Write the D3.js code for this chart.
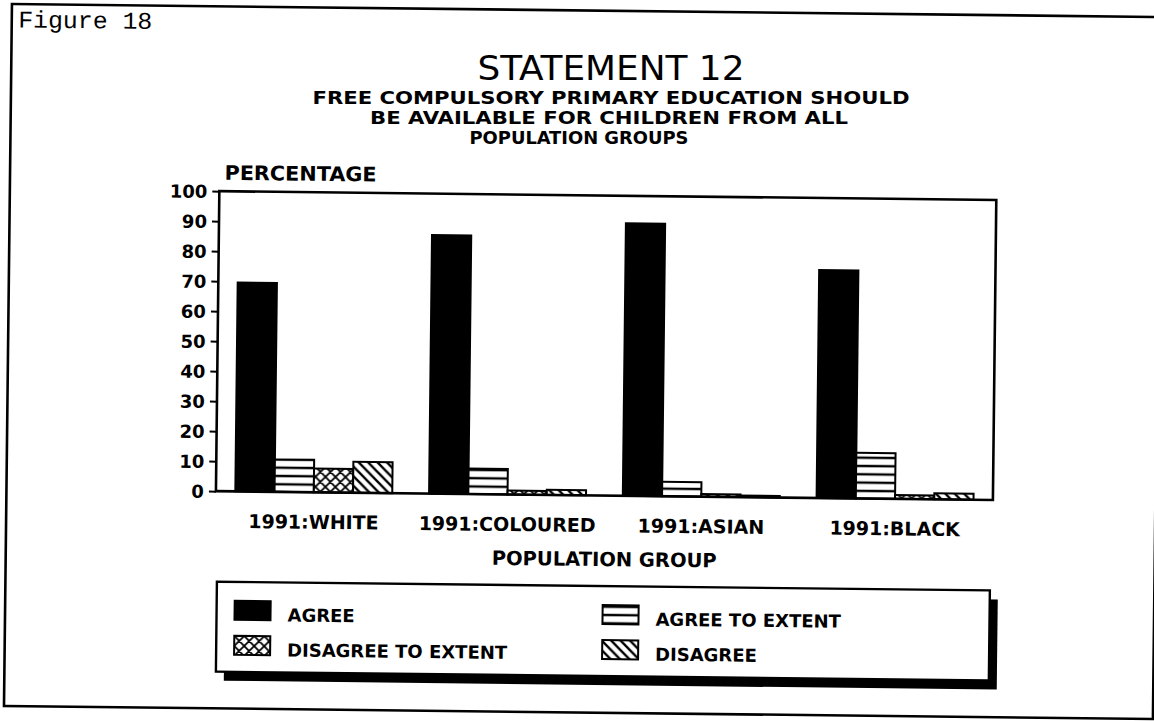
<!DOCTYPE html>
<html><head><meta charset="utf-8">
<script src="https://cdn.jsdelivr.net/npm/d3@7"></script>
<style>body{margin:0;background:#fff} svg{display:block}</style>
</head><body>
<svg id="chart" width="1154" height="721"></svg>
<script>
// ---- data ----
const categories = ["1991:WHITE", "1991:COLOURED", "1991:ASIAN", "1991:BLACK"];
const seriesNames = ["AGREE", "AGREE TO EXTENT", "DISAGREE TO EXTENT", "DISAGREE"];
const agree = [69.6, 86.2, 90.8, 76.0];
const agreeToExtent = [10.8, 8.5, 4.8, 15.2];
const disagreeToExtent = [7.9, 1.3, 0.9, 1.3];
const disagree = [10.3, 1.7, 0.5, 2.0];
const yTicks = [0, 10, 20, 30, 40, 50, 60, 70, 80, 90, 100];
const figureLabel = "Figure 18";
const titleText = "STATEMENT 12";
const subtitleLines = ["FREE COMPULSORY PRIMARY EDUCATION SHOULD", "BE AVAILABLE FOR CHILDREN FROM ALL", "POPULATION GROUPS"];
const yAxisTitle = "PERCENTAGE";
const xAxisTitle = "POPULATION GROUP";

const seriesValues = [agree, agreeToExtent, disagreeToExtent, disagree];
const fills = ["#000", "url(#pHoriz)", "url(#pCross)", "url(#pDiag)"];

const svg = d3.select("#chart");
const defs = svg.append("defs");

// patterns
const ph = defs.append("pattern").attr("id", "pHoriz").attr("patternUnits", "userSpaceOnUse")
  .attr("width", 8).attr("height", 8.3);
ph.append("rect").attr("width", 8).attr("height", 8.3).attr("fill", "#fff");
ph.append("line").attr("x1", 0).attr("x2", 8).attr("y1", 6.5).attr("y2", 6.5).attr("stroke", "#000").attr("stroke-width", 2.4);

const pc = defs.append("pattern").attr("id", "pCross").attr("patternUnits", "userSpaceOnUse")
  .attr("width", 10).attr("height", 10);
pc.append("rect").attr("width", 10).attr("height", 10).attr("fill", "#fff");
pc.append("path").attr("d", "M0,0L10,10M10,0L0,10M-2,8L2,12M8,-2L12,2M-2,2L2,-2M8,12L12,8")
  .attr("stroke", "#000").attr("stroke-width", 1.8);

const pd = defs.append("pattern").attr("id", "pDiag").attr("patternUnits", "userSpaceOnUse")
  .attr("width", 9.5).attr("height", 9.5);
pd.append("rect").attr("width", 9.5).attr("height", 9.5).attr("fill", "#fff");
pd.append("path").attr("d", "M0,0L9.5,9.5M-3,6.5L3,12.5M6.5,-3L12.5,3")
  .attr("stroke", "#000").attr("stroke-width", 2.4);

const root = svg.append("g").attr("transform", "rotate(0.65,600,400)");
const bold = "'DejaVu Sans', sans-serif";

// outer frame
root.append("rect").attr("x", 7.5).attr("y", 10.7).attr("width", 1149).attr("height", 702)
  .attr("fill", "none").attr("stroke", "#000").attr("stroke-width", 2.6);

root.append("text").attr("x", 14).attr("y", 34).text(figureLabel)
  .attr("font-family", "'Liberation Mono', monospace").attr("font-size", 24)
  .attr("textLength", 134).attr("lengthAdjust", "spacingAndGlyphs").attr("fill", "#000");

// title block (kept level, at the positions seen in the scan)
const titleG = svg.append("g");
titleG.append("text").attr("x", 611).attr("y", 80).attr("text-anchor", "middle").text(titleText)
  .attr("font-family", "'DejaVu Sans Condensed','DejaVu Sans',sans-serif").attr("font-size", 33)
  .attr("textLength", 267).attr("lengthAdjust", "spacingAndGlyphs").attr("fill", "#000");

const subCenters = [611, 609, 579];
const subWidths = [597, 478, 219];
const subY = [104, 124, 143.5];
subtitleLines.forEach((s, i) => {
  titleG.append("text").attr("x", subCenters[i]).attr("y", subY[i]).attr("text-anchor", "middle").text(s)
    .attr("font-family", "'DejaVu Sans Condensed','DejaVu Sans',sans-serif").attr("font-weight", "bold")
    .attr("font-size", 17).attr("textLength", subWidths[i]).attr("lengthAdjust", "spacingAndGlyphs");
});

// scales
const plot = {left: 217, right: 994, top: 195.5, bottom: 495.5};
const x0 = d3.scaleBand().domain(categories).range([plot.left, plot.right]).paddingInner(0.19).paddingOuter(0.1);
const x1 = d3.scaleBand().domain(seriesNames).range([0, x0.bandwidth()]);
const y = d3.scaleLinear().domain([0, 100]).range([plot.bottom, plot.top]);

// bars
const groups = root.append("g").selectAll("g").data(categories).join("g")
  .attr("transform", d => `translate(${x0(d)},0)`);
groups.selectAll("rect").data((c, ci) => seriesNames.map((s, si) => ({s, si, v: seriesValues[si][ci]})))
  .join("rect")
  .attr("x", d => x1(d.s)).attr("width", x1.bandwidth())
  .attr("y", d => y(d.v)).attr("height", d => y(0) - y(d.v))
  .attr("fill", d => fills[d.si]).attr("stroke", "#000").attr("stroke-width", 2);

// plot frame
root.append("rect").attr("x", plot.left).attr("y", plot.top)
  .attr("width", plot.right - plot.left).attr("height", plot.bottom - plot.top)
  .attr("fill", "none").attr("stroke", "#000").attr("stroke-width", 2.6);

// y axis
const yAxis = root.append("g").attr("transform", `translate(${plot.left},0)`)
  .call(d3.axisLeft(y).tickValues(yTicks).tickSize(7).tickPadding(5));
yAxis.select(".domain").remove();
yAxis.selectAll("line").attr("stroke-width", 2);
yAxis.selectAll("text").attr("font-family", bold).attr("font-weight", "bold").attr("font-size", 18)
  .attr("fill", "#000").attr("dy", "0.36em");

root.append("text").attr("x", 222).attr("y", 184).text(yAxisTitle)
  .attr("font-family", bold).attr("font-weight", "bold").attr("font-size", 20)
  .attr("textLength", 152).attr("lengthAdjust", "spacingAndGlyphs");

// x labels
root.append("g").selectAll("text").data(categories).join("text")
  .attr("x", d => x0(d) + x0.bandwidth() / 2).attr("y", 532).attr("text-anchor", "middle")
  .text(d => d).attr("font-family", bold).attr("font-weight", "bold").attr("font-size", 19);

root.append("text").attr("x", 606).attr("y", 566).attr("text-anchor", "middle").text(xAxisTitle)
  .attr("font-family", bold).attr("font-weight", "bold").attr("font-size", 19.5);

// legend
const lg = {x: 219, y: 586, w: 773, h: 90};
root.append("rect").attr("x", lg.x + 8).attr("y", lg.y + 9).attr("width", lg.w).attr("height", lg.h).attr("fill", "#000");
root.append("rect").attr("x", lg.x).attr("y", lg.y).attr("width", lg.w).attr("height", lg.h)
  .attr("fill", "#fff").attr("stroke", "#000").attr("stroke-width", 2.4);
const colX = [237, 605];
const rowBase = [625, 660];
const items = root.append("g").selectAll("g").data(seriesNames).join("g")
  .attr("transform", (d, i) => `translate(${colX[i % 2]},${rowBase[Math.floor(i / 2)]})`);
items.append("rect").attr("x", 0).attr("y", -20).attr("width", 36).attr("height", 19)
  .attr("fill", (d, i) => fills[i]).attr("stroke", "#000").attr("stroke-width", 2);
items.append("text").attr("x", 53).attr("y", 0).text(d => d)
  .attr("font-family", bold).attr("font-weight", "bold").attr("font-size", 18);
</script>
</body></html>
